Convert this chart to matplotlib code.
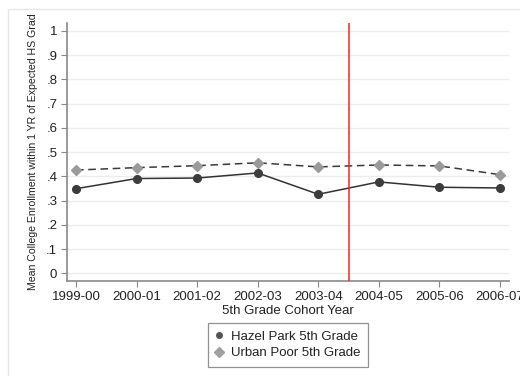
import numpy as np
import matplotlib.pyplot as plt
from matplotlib.patches import Rectangle
from matplotlib.lines import Line2D

plt.rcParams['font.family'] = ['Liberation Sans', 'DejaVu Sans']

cohorts = ['1999-00', '2000-01', '2001-02', '2002-03', '2003-04', '2004-05', '2005-06', '2006-07']
hazel_park = [0.349, 0.391, 0.393, 0.414, 0.326, 0.377, 0.355, 0.352]
urban_poor = [0.426, 0.436, 0.444, 0.456, 0.439, 0.447, 0.443, 0.407]
policy_break = 4.5
yticks = [0, .1, .2, .3, .4, .5, .6, .7, .8, .9, 1]
ytick_labels = ['0', '.1', '.2', '.3', '.4', '.5', '.6', '.7', '.8', '.9', '1']

W, H = 520, 376
fig = plt.figure(figsize=(W / 100, H / 100), dpi=100)
# light outer frame around the graph region
fig.patches.append(Rectangle((8 / W, -0.1), 1.2, 1 - 9 / H + 0.1, transform=fig.transFigure,
                             fill=False, edgecolor='#e6e6e6', lw=1.0))

ax = fig.add_axes([67 / W, 1 - 281 / H, (509 - 67) / W, (281 - 23) / H])
x = np.arange(len(cohorts))

ax.plot(x, hazel_park, color='#333333', lw=1.1, marker='o', ms=5.5,
        mfc='#3c3c3c', mec='#3c3c3c', label='Hazel Park 5th Grade', zorder=4)
ax.plot(x, urban_poor, color='#3a3a3a', lw=1.1, ls=(0, (5, 3)), marker='D', ms=5.5,
        mfc='#9a9a9a', mec='#9a9a9a', label='Urban Poor 5th Grade', zorder=3)
ax.axvline(policy_break, color='#ff2020', lw=1.1, zorder=5)

ax.set_xlim(-0.149, 7.149)
ax.set_ylim(-0.032, 1.033)
ax.set_xticks(x)
ax.set_xticklabels(cohorts, fontsize=9.5, color='#222222')
ax.set_yticks(yticks)
ax.set_yticklabels(ytick_labels, fontsize=9.5, color='#222222')
ax.yaxis.grid(True, color='#ececec', lw=1.0)
ax.set_axisbelow(True)
ax.tick_params(axis='both', length=4, color='#888888', width=0.8, pad=3)

for s in ['top', 'right']:
    ax.spines[s].set_visible(False)
for s in ['left', 'bottom']:
    ax.spines[s].set_color('#8a8a8a')
    ax.spines[s].set_linewidth(1.2)

ax.set_xlabel('5th Grade Cohort Year', fontsize=9.5, color='#222222', labelpad=2)
ax.set_ylabel('Mean College Enrollment within 1 YR of Expected HS Grad',
              fontsize=7.6, color='#222222', labelpad=6)

labels = [l.get_label() for l in ax.get_lines()[:2]]
handles = [Line2D([], [], ls='none', marker='o', ms=4, mfc='#555555', mec='#555555'),
           Line2D([], [], ls='none', marker='D', ms=5, mfc='#a0a0a0', mec='#a0a0a0')]
leg = fig.legend(handles, labels, loc='center', bbox_to_anchor=(288 / W, 1 - 345 / H),
                 fontsize=9.5, frameon=True, fancybox=False, handlelength=0.5,
                 handletextpad=0.6, borderpad=0.6, labelspacing=0.3, borderaxespad=0)
leg.get_frame().set_edgecolor('#777777')
leg.get_frame().set_linewidth(0.9)
for t in leg.get_texts():
    t.set_color('#222222')

fig.savefig('out.png', dpi=100)
